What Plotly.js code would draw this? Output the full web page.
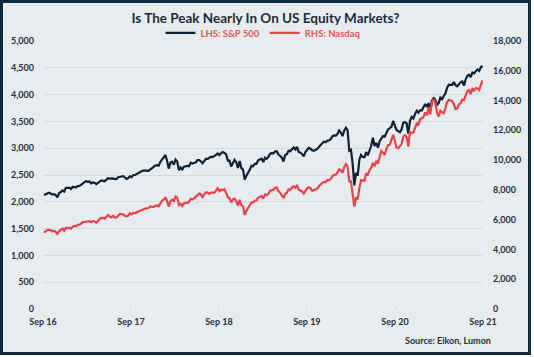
<!DOCTYPE html>
<html>
<head>
<meta charset="utf-8">
<script src="https://cdn.plot.ly/plotly-3.0.1.min.js"></script>
<style>
  html, body { margin: 0; padding: 0; background: #ffffff; }
  #frame { position: absolute; left: 0; top: 0; width: 531px; height: 355px; box-sizing: border-box;
           border: 3px solid #0f2a40; background: #e9ecef; }
  #chart { width: 525px; height: 349px; }
</style>
</head>
<body>
<div id="frame"><div id="chart"></div></div>
<script>
// Weekly closes (Fridays) starting 2016-09-09
const startDate = "2016-09-09";
const tickDates = ["2016-09-05", "2017-09-05", "2018-09-05", "2019-09-05", "2020-09-05", "2021-09-05"];
const tickLabels = ["Sep 16", "Sep 17", "Sep 18", "Sep 19", "Sep 20", "Sep 21"];
const seriesNames = ["LHS: S&P 500", "RHS: Nasdaq"];

const sp500 = [
  // 2016
  2127.81, 2139.16, 2164.69, 2168.27, 2153.74, 2132.98, 2141.16, 2126.41, 2085.18, 2164.45, 2181.90, 2213.35,
  2191.95, 2259.53, 2258.07, 2263.79, 2238.83,
  // 2017
  2276.98, 2274.64, 2271.31, 2294.69, 2297.42, 2316.10, 2351.16, 2367.34, 2383.12, 2372.60, 2378.25, 2343.98, 2362.72,
  2355.54, 2328.95, 2348.69, 2384.20, 2399.29, 2390.90, 2381.73, 2415.82, 2439.07, 2431.77, 2433.15, 2438.30, 2423.41,
  2425.18, 2459.27, 2472.54, 2472.10, 2476.83, 2441.32, 2425.55, 2443.05, 2476.55, 2461.43, 2500.23, 2502.22, 2519.36,
  2549.33, 2553.17, 2575.21, 2581.07, 2587.84, 2582.30, 2578.85, 2602.42, 2642.22, 2651.50, 2675.81, 2683.34, 2673.61,
  // 2018
  2743.15, 2786.24, 2810.30, 2872.87, 2762.13, 2619.55, 2732.22, 2747.30, 2691.25, 2786.57, 2752.01, 2588.26, 2640.87,
  2604.47, 2656.30, 2670.14, 2669.91, 2663.42, 2727.72, 2712.97, 2721.33, 2734.62, 2779.03, 2779.66, 2754.88, 2718.37,
  2759.82, 2801.31, 2801.83, 2818.82, 2840.35, 2833.28, 2850.13, 2874.69, 2901.52, 2871.68, 2904.98, 2929.67, 2913.98,
  2885.57, 2767.13, 2767.78, 2658.69, 2723.06, 2781.01, 2736.27, 2632.56, 2760.17, 2633.08, 2599.95, 2416.62, 2485.74,
  // 2019
  2531.94, 2596.26, 2670.71, 2664.76, 2706.53, 2707.88, 2775.60, 2792.67, 2803.69, 2743.07, 2822.48, 2800.71, 2834.40,
  2892.74, 2907.41, 2905.03, 2939.88, 2945.64, 2881.40, 2859.53, 2826.06, 2752.06, 2873.34, 2886.98, 2950.46, 2941.76,
  2990.41, 3013.77, 2976.61, 3025.86, 2932.05, 2918.65, 2888.68, 2847.11, 2926.46, 2978.71, 3007.39, 2992.07, 2961.79,
  2952.01, 2970.27, 2986.20, 3022.55, 3066.91, 3093.08, 3120.46, 3110.29, 3140.98, 3145.91, 3168.80, 3221.22, 3240.02,
  // 2020
  3234.85, 3265.35, 3329.62, 3295.47, 3225.52, 3327.71, 3380.16, 3337.75, 2954.22, 2972.37, 2711.02, 2304.92, 2541.47,
  2488.65, 2789.82, 2874.56, 2836.74, 2830.71, 2929.80, 2863.70, 2955.45, 3044.31, 3193.93, 3041.31, 3097.74, 3009.05,
  3130.01, 3185.04, 3224.73, 3215.63, 3271.12, 3351.28, 3372.85, 3397.16, 3508.01, 3426.96, 3340.97, 3319.47, 3298.46,
  3348.44, 3477.13, 3483.81, 3465.39, 3269.96, 3509.44, 3585.15, 3557.54, 3638.35, 3699.12, 3663.46, 3709.41, 3703.06,
  3756.07,
  // 2021
  3824.68, 3768.25, 3841.47, 3714.24, 3886.83, 3934.83, 3906.71, 3811.15, 3841.94, 3943.34, 3913.10, 3974.54, 4019.87,
  4128.80, 4185.47, 4180.17, 4181.17, 4232.60, 4173.85, 4155.86, 4204.11, 4229.89, 4247.44, 4166.45, 4280.70, 4352.34,
  4369.55, 4327.16, 4411.79, 4395.26, 4436.52, 4468.00, 4441.67, 4509.37, 4535.43
];

const nasdaq = [
  // 2016
  5125.91, 5244.57, 5305.75, 5312.00, 5292.40, 5214.16, 5257.40, 5190.10, 5046.37, 5237.11, 5321.51, 5398.92,
  5255.65, 5444.50, 5437.16, 5462.69, 5383.12,
  // 2017
  5521.06, 5574.12, 5555.33, 5660.78, 5666.77, 5734.13, 5838.58, 5845.31, 5870.75, 5861.73, 5901.00, 5828.74, 5911.74,
  5877.81, 5805.15, 5910.52, 6047.61, 6100.76, 6121.23, 6083.70, 6210.19, 6305.80, 6207.92, 6151.76, 6265.25, 6140.42,
  6153.08, 6312.47, 6387.75, 6374.68, 6351.56, 6256.56, 6216.53, 6265.64, 6435.33, 6360.19, 6448.47, 6426.92, 6495.96,
  6590.18, 6605.80, 6629.05, 6701.26, 6764.44, 6750.94, 6782.79, 6889.16, 6847.59, 6840.08, 6936.58, 6959.96, 6903.39,
  // 2018
  7136.56, 7261.06, 7336.38, 7505.77, 7240.95, 6874.49, 7239.47, 7337.39, 7257.87, 7560.81, 7481.99, 6992.67, 7063.45,
  6915.11, 7106.65, 7146.13, 7119.80, 7209.62, 7402.88, 7354.34, 7433.85, 7554.33, 7645.51, 7746.38, 7692.82, 7510.30,
  7688.39, 7825.98, 7820.20, 7737.42, 7812.01, 7839.11, 7816.33, 7945.98, 8109.54, 7902.54, 8010.04, 7986.96, 8046.35,
  7788.45, 7496.89, 7449.03, 7167.21, 7356.99, 7406.90, 7247.87, 6938.98, 7330.54, 6969.25, 6910.67, 6332.99, 6584.52,
  // 2019
  6738.86, 6971.48, 7157.23, 7164.86, 7263.87, 7298.20, 7472.41, 7527.54, 7595.35, 7408.14, 7688.53, 7642.67, 7729.32,
  7938.69, 7984.16, 7998.06, 8146.40, 8164.00, 7916.94, 7816.28, 7637.01, 7453.15, 7742.10, 7796.66, 8031.71, 8006.24,
  8161.79, 8244.14, 8146.49, 8330.21, 8004.07, 7959.14, 7895.99, 7751.77, 7962.88, 8103.07, 8176.71, 8117.67, 7939.63,
  7982.47, 8057.04, 8089.54, 8243.12, 8386.40, 8475.31, 8540.83, 8519.88, 8665.47, 8656.53, 8734.88, 8924.96, 9006.62,
  // 2020
  9020.77, 9178.86, 9388.94, 9314.91, 9150.94, 9520.51, 9731.18, 9576.59, 8567.37, 8575.62, 7874.88, 6879.52, 7502.38,
  7373.08, 8153.58, 8650.14, 8634.52, 8604.95, 9121.32, 9014.56, 9324.59, 9489.87, 9814.08, 9588.81, 9946.12, 9757.22,
  10207.63, 10617.44, 10503.19, 10363.18, 10745.27, 11010.98, 11019.30, 11311.80, 11695.63, 11313.13, 10853.55, 10793.28, 10913.56,
  11075.02, 11579.94, 11671.56, 11548.28, 10911.59, 11895.23, 11829.29, 11854.97, 12205.85, 12464.23, 12377.87, 12755.64, 12804.73,
  12888.28,
  // 2021
  13201.98, 12998.50, 13543.06, 13070.69, 13856.30, 14095.47, 13874.46, 13192.35, 12920.15, 13319.86, 13215.24, 13138.73, 13480.11,
  13900.19, 14052.34, 14016.81, 13962.68, 13752.24, 13429.98, 13470.99, 13748.74, 13814.49, 14069.42, 14030.38, 14360.39, 14639.33,
  14701.92, 14427.24, 14836.99, 14672.68, 14835.76, 14822.90, 14714.66, 15129.50, 15363.52
];

// weekly date stamps for the values
function weeklyDates(start, n) {
  const out = [];
  const d0 = new Date(start + "T00:00:00Z");
  for (let i = 0; i < n; i++) {
    const d = new Date(d0.getTime() + i * 7 * 86400000);
    out.push(d.toISOString().slice(0, 10));
  }
  return out;
}
const dates = weeklyDates(startDate, Math.max(sp500.length, nasdaq.length));

const FONT = "Lato, 'Open Sans', sans-serif";
const TXT = "#1f2f40";

const traces = [
  { x: dates.slice(0, sp500.length), y: sp500, name: seriesNames[0], type: "scatter", mode: "lines",
    line: { color: "#0d2235", width: 2.2 }, yaxis: "y" },
  { x: dates.slice(0, nasdaq.length), y: nasdaq, name: seriesNames[1], type: "scatter", mode: "lines",
    line: { color: "#e8434b", width: 2.2 }, yaxis: "y2" }
];

const layout = {
  width: 525, height: 349,
  margin: { l: 40, r: 45, t: 38, b: 43 },
  paper_bgcolor: "#e9ecef", plot_bgcolor: "#e9ecef",
  font: { family: FONT, color: TXT, size: 9 },
  title: { text: "Is The Peak Nearly In On US Equity Markets?", x: 0.5, xref: "container", xanchor: "center",
           y: 0.955, yref: "container", yanchor: "middle",
           font: { family: FONT, size: 13.5, color: "#1c2b3d", weight: 700 } },
  showlegend: true,
  legend: { orientation: "h", x: 0.5, xanchor: "center", y: 1.03, yanchor: "middle",
            font: { family: FONT, size: 9.5, color: "#e8545b", weight: 700 },
            bgcolor: "rgba(0,0,0,0)", itemwidth: 30, tracegroupgap: 0 },
  xaxis: { type: "date", range: ["2016-09-05", "2021-09-05"], tickvals: tickDates, ticktext: tickLabels,
           showgrid: false, zeroline: false, showline: false, ticks: "inside", ticklen: 3, tickcolor: "#d3d6d9",
           tickfont: { family: FONT, size: 9, color: TXT, weight: 700 }, ticklabelstandoff: 6 },
  yaxis: { range: [0, 5000], dtick: 500, tickformat: ",", showgrid: true, gridcolor: "#d8dbde", gridwidth: 1,
           zeroline: false, showline: false, ticks: "", ticklabelstandoff: 8,
           tickfont: { family: FONT, size: 9, color: TXT, weight: 700 } },
  yaxis2: { range: [0, 18000], dtick: 2000, tickformat: ",", overlaying: "y", side: "right", showgrid: false,
            zeroline: false, showline: false, ticks: "", ticklabelstandoff: 9,
            tickfont: { family: FONT, size: 9, color: TXT, weight: 700 } },
  annotations: [
    { text: "Source: Eikon, Lumon", xref: "paper", yref: "paper", x: 1.0227, y: -0.116, xanchor: "right",
      yanchor: "middle", showarrow: false, font: { family: FONT, size: 9, color: TXT, weight: 700 } }
  ]
};

Plotly.newPlot("chart", traces, layout, { displayModeBar: false, staticPlot: true });
</script>
</body>
</html>
